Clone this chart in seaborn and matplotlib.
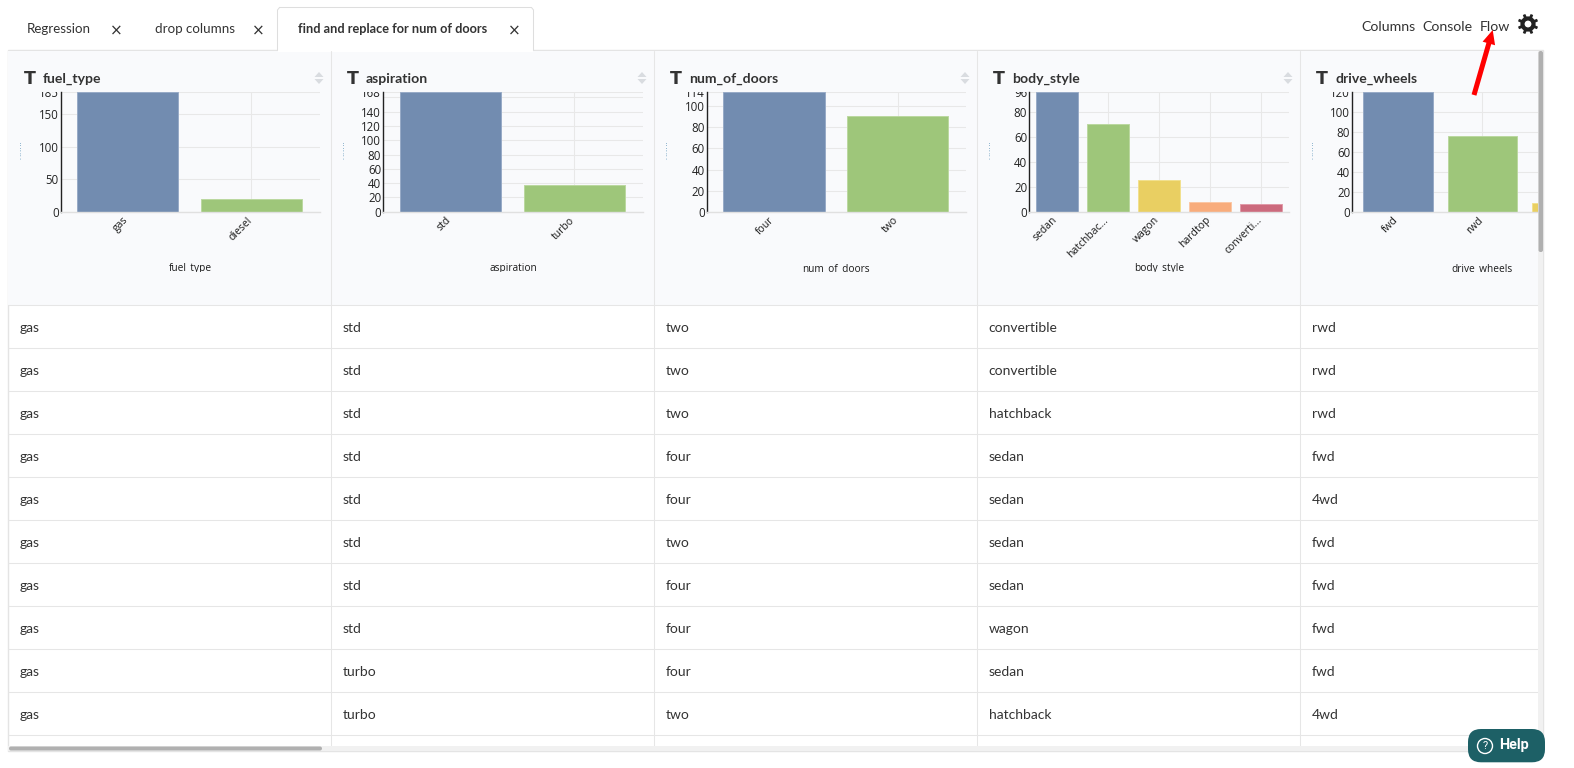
import matplotlib
matplotlib.use("Agg")
import matplotlib.pyplot as plt
import numpy as np
import seaborn as sns
from matplotlib.patches import Rectangle, FancyBboxPatch, FancyArrow, Circle, Polygon
from matplotlib.transforms import Bbox, ScaledTranslation

W, H = 1574, 768

# chart data, one block per column
fuel_cats = ["gas", "diesel"]
fuel_vals = [185, 20]
fuel_ticks = [0, 50, 100, 150, 185]
fuel_tick_labels = ["0", "50", "100", "150", "185"]

asp_cats = ["std", "turbo"]
asp_vals = [168, 37]
asp_ticks = [0, 20, 40, 60, 80, 100, 120, 140, 160, 168]
asp_tick_labels = ["0", "20", "40", "60", "80", "100", "120", "140", "", "168"]

door_cats = ["four", "two"]
door_vals = [114, 91]
door_ticks = [0, 20, 40, 60, 80, 100, 114]
door_tick_labels = ["0", "20", "40", "60", "80", "100", "114"]

body_cats = ["sedan", "hatchbac...", "wagon", "hardtop", "converti..."]
body_vals = [96, 70, 25, 8, 6]
body_ticks = [0, 20, 40, 60, 80, 96]
body_tick_labels = ["0", "20", "40", "60", "80", "96"]

drive_cats = ["fwd", "rwd", "4wd"]
drive_vals = [120, 76, 9]
drive_ticks = [0, 20, 40, 60, 80, 100, 120]
drive_tick_labels = ["0", "20", "40", "60", "80", "100", "120"]

# table rows
fuel_col = ["gas"] * 10
asp_col = ["std"] * 8 + ["turbo", "turbo"]
door_col = ["two", "two", "two", "four", "four", "two", "four", "four", "four", "two"]
body_col = ["convertible", "convertible", "hatchback", "sedan", "sedan", "sedan", "sedan",
            "wagon", "sedan", "hatchback"]
drive_col = ["rwd", "rwd", "rwd", "fwd", "4wd", "fwd", "fwd", "fwd", "fwd", "4wd"]

palette = ["#728cb0", "#9ec67a", "#e9cf62", "#f8ac7c", "#cc6a7d"]
edges = ["#98abc7", "#bbd8a0", "#f2e08f", "#fbc7a5", "#e09aa8"]

sns.set_style("white")
plt.rcParams["font.family"] = ["Lato", "DejaVu Sans"]

fig = plt.figure(figsize=(W / 100, H / 100), dpi=100, facecolor="white")

back = fig.add_axes([0, 0, 1, 1], zorder=0)
back.set_xlim(0, W)
back.set_ylim(H, 0)
back.axis("off")

top = fig.add_axes([0, 0, 1, 1], zorder=5)
top.set_xlim(0, W)
top.set_ylim(H, 0)
top.axis("off")
top.patch.set_alpha(0)


def px_box(x0, y0, x1, y1):
    return Bbox([[x0, H - y1], [x1, H - y0]])


# panel, header and table lines
back.add_patch(Rectangle((7.5, 50), 1535.5, 701, fc="white", ec="#e4e4e4", lw=1))
back.add_patch(Rectangle((8, 51), 1530, 254, fc="#f9fafc", ec="none"))
col_edges = [331, 654, 977, 1300]
for x in col_edges:
    back.plot([x, x], [51, 746], color="#e6e6e6", lw=0.75)
row_lines = [305, 348, 391, 434, 477, 520, 563, 606, 649, 692, 735]
for y in row_lines:
    back.plot([8, 1538], [y, y], color="#e6e6e6", lw=0.75)

# tabs
back.plot([277.5, 277.5, 279.5], [50, 10, 7.5], color="#dedede", lw=0.75)
back.plot([279.5, 531.5, 533.5, 533.5], [7.5, 7.5, 10, 50], color="#dedede", lw=0.75)
back.add_patch(Rectangle((278, 49), 255, 3, fc="white", ec="none"))
back.text(27, 29, "Regression", fontsize=9.6, color="#333333", va="center")
back.text(155, 29, "drop columns", fontsize=9.6, color="#333333", va="center")
back.text(298, 29, "find and replace for num of doors", fontsize=9.2, weight="bold",
          color="#333333", va="center")
for x in [116.5, 258, 514.5]:
    back.text(x, 31, "×", fontsize=11, color="#333333", ha="center", va="center",
              family="DejaVu Sans")

# top right links
back.text(1361, 27, "Columns", fontsize=10.2, color="#333333", va="center")
back.text(1422, 27, "Console", fontsize=10.2, color="#333333", va="center")
back.text(1480, 27, "Flow", fontsize=10.2, color="#333333", va="center")

# settings gear
angles = np.linspace(0, 2 * np.pi, 96, endpoint=False) + np.pi / 8
radii = np.where(np.cos(8 * (angles - np.pi / 8)) > 0.05, 10.3, 7.6)
back.add_patch(Polygon(np.c_[1528 + radii * np.cos(angles), 24 + radii * np.sin(angles)],
                       fc="#222222", ec="none"))
back.add_patch(Circle((1528, 24), 3.4, fc="white", ec="none"))


def draw_column(i, name, cats, vals, ticks, tick_labels, bar_first, band, bar_w, x_left, x_right, title_x):
    offset = 323 * i
    y_top, y_bottom = 91.5, 211.8
    ax = fig.add_axes([x_left / W, 1 - y_bottom / H, (x_right - x_left) / W, (y_bottom - y_top) / H],
                      zorder=1)
    ax.patch.set_alpha(0)
    sns.barplot(x=cats, y=vals, hue=cats, palette=palette[:len(cats)], width=bar_w, saturation=1,
                dodge=False, legend=False, ax=ax)
    for bar, edge in zip(ax.patches, edges):
        bar.set_edgecolor(edge)
        bar.set_linewidth(0.7)
    ax.set_xlim((x_left - bar_first) / band, (x_right - bar_first) / band)
    ax.set_ylim(0, vals[0])
    ax.set_axisbelow(True)
    ax.grid(True, color="#e8e8e8", lw=0.75)
    sns.despine(ax=ax, top=True, right=True)
    ax.spines["left"].set_color("#222222")
    ax.spines["left"].set_linewidth(1)
    ax.spines["bottom"].set_color("#e0e0e0")
    ax.spines["bottom"].set_linewidth(1)
    ax.set_yticks(ticks)
    ax.set_yticklabels(tick_labels, fontsize=8.3, color="#222222", family="Open Sans")
    shown = [k for k in range(len(cats)) if k <= ax.get_xlim()[1]]
    ax.set_xticks(shown)
    ax.set_xticklabels([cats[k] for k in shown], rotation=45, ha="right", va="center",
                       rotation_mode="anchor", fontsize=7.5, color="#1a1a1a", family="Open Sans")
    ax.tick_params(axis="y", length=0, pad=1.5)
    ax.tick_params(axis="x", length=0, pad=5)
    ax.set_xlabel("")
    ax.set_ylabel("")
    shift = ScaledTranslation(-1 / 100, 0, fig.dpi_scale_trans)
    for lab in ax.get_xticklabels():
        lab.set_transform(lab.get_transform() + shift)
    # top tick label is cut off by the chart frame
    for lab in ax.get_yticklabels():
        lab.set_clip_on(True)
        lab.set_clip_box(px_box(0, 92, W, H))

    # header
    base = 8 + offset
    back.text(base + 16, 79, "T", fontsize=12.5, weight="bold", color="#333333", ha="left",
              va="center", family="DejaVu Sans")
    back.text(base + 35, 79, name, fontsize=10.1, weight="bold", color="#333333", va="center")
    sx = base + 311
    back.add_patch(Polygon([[sx - 4.5, 77], [sx + 4.5, 77], [sx, 72]], fc="#d9dce0", ec="none"))
    back.add_patch(Polygon([[sx - 4.5, 79], [sx + 4.5, 79], [sx, 84]], fc="#d9dce0", ec="none"))

    # axis title, bottom of the letters is cut off
    t = back.text(title_x, 271.3, name, fontsize=7.3, color="#1a1a1a", ha="center", va="baseline",
                  family="Open Sans")
    t.set_clip_on(True)
    t.set_clip_box(px_box(0, 0, W, 271.6))

    # y title only shows as a sliver
    yt = back.text(base + 12.7, 151, "count", fontsize=6, rotation=90, color="#6d9fc0",
                   ha="center", va="center", family="Open Sans")
    yt.set_clip_on(True)
    yt.set_clip_box(px_box(base + 11.7, 142, base + 13.4, 161))
    return ax


draw_column(0, "fuel_type", fuel_cats, fuel_vals, fuel_ticks, fuel_tick_labels,
            127.6, 123.8, 0.816, 60.7, 320, 190.3)
draw_column(1, "aspiration", asp_cats, asp_vals, asp_ticks, asp_tick_labels,
            450.6, 123.8, 0.816, 383.3, 643.3, 513.3)
draw_column(2, "num_of_doors", door_cats, door_vals, door_ticks, door_tick_labels,
            774, 123.8, 0.816, 706.7, 966, 836.3)
draw_column(3, "body_style", body_cats, body_vals, body_ticks, body_tick_labels,
            1057, 51, 0.83, 1029.3, 1289, 1159)
draw_column(4, "drive_wheels", drive_cats, drive_vals, drive_ticks, drive_tick_labels,
            1398, 84.2, 0.82, 1352.3, 1538, 1482)

# table text
text_x = [20, 343, 666, 988.5, 1312]
columns = [fuel_col, asp_col, door_col, body_col, drive_col]
for x, col in zip(text_x, columns):
    for r, val in enumerate(col):
        back.text(x, 328.3 + 43 * r, val, fontsize=10, color="#333333", va="center")

# scrollbars
top.add_patch(Rectangle((8, 746), 1530, 5, fc="#f1f1f1", ec="none"))
top.add_patch(FancyBboxPatch((9, 746.5), 313, 4, boxstyle="round,pad=0,rounding_size=2",
                             fc="#b0b0b0", ec="none"))
top.add_patch(Rectangle((1538, 51), 5, 700, fc="#f1f1f1", ec="none"))
top.add_patch(FancyBboxPatch((1538.5, 51), 4.5, 201, boxstyle="round,pad=0,rounding_size=2",
                             fc="#b0b0b0", ec="none"))

# arrow
top.add_patch(FancyArrow(1474, 95, 18.7, -65, width=5, head_width=13, head_length=14,
                         length_includes_head=True, fc="#ff0000", ec="none"))

# help button
top.add_patch(FancyBboxPatch((1468, 729), 77, 33.3, boxstyle="round,pad=0,rounding_size=13",
                             fc="#1d6066", ec="none"))
top.add_patch(Circle((1485, 746), 7.5, fc="none", ec="white", lw=1))
top.text(1485, 746, "?", fontsize=8, color="white", ha="center", va="center", family="Roboto")
top.text(1499, 745.5, "Help", fontsize=10.4, weight="bold", color="white", va="center", family="Roboto")

fig.savefig("out.png", dpi=100)
